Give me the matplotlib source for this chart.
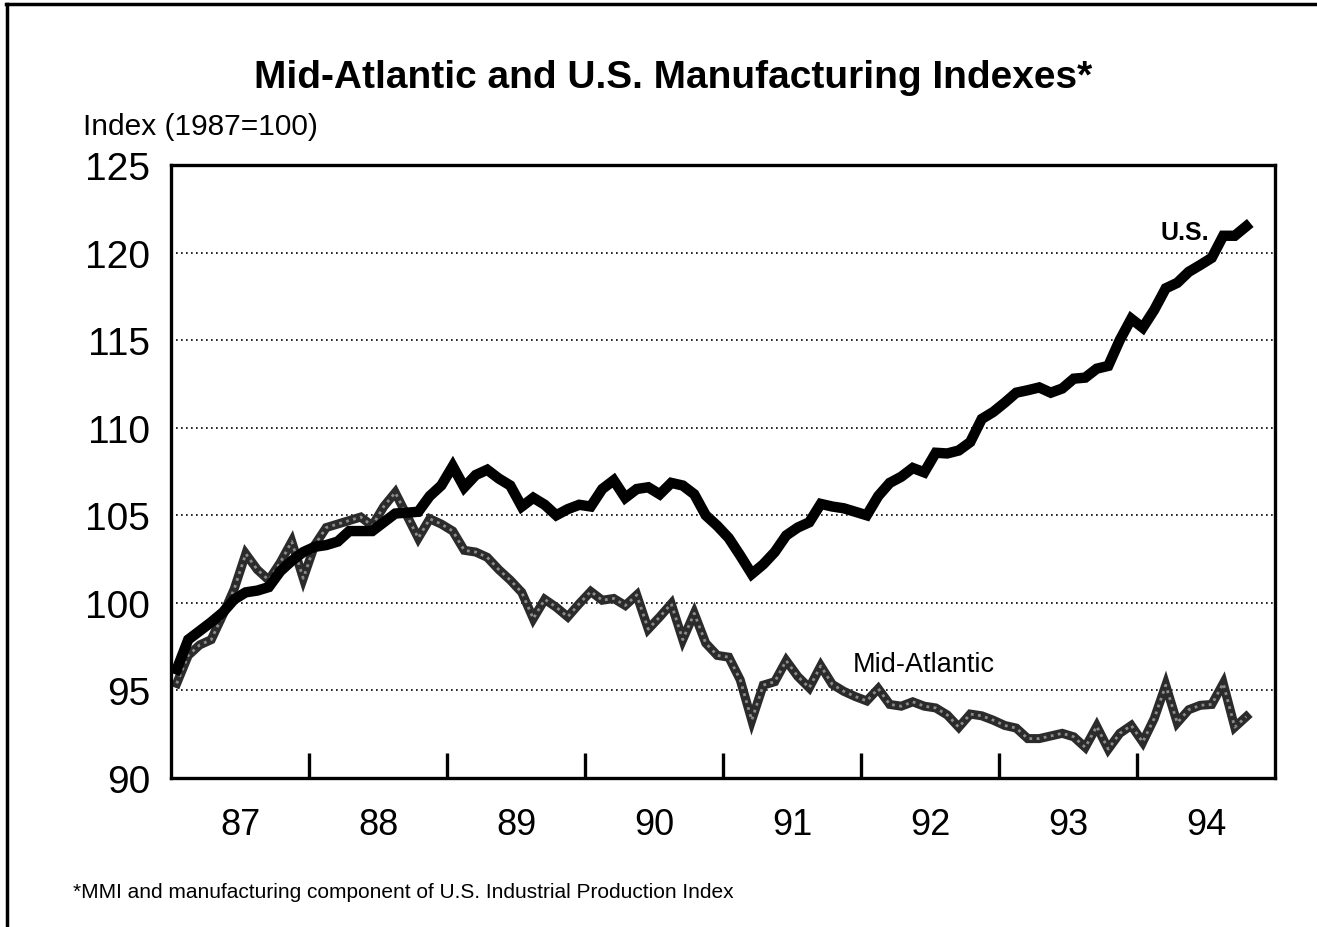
#Mid-Atlantic vs U.S. manufacturing indexes, monthly 1987-1994

import numpy as np
import matplotlib.pyplot as plt

plt.rcParams['font.family'] = ['Liberation Sans', 'DejaVu Sans']

#monthly values, Jan 1987 onwards
us_index = [
    96.2, 97.9, 98.4, 98.9, 99.45, 100.2, 100.6, 100.7, 100.9, 101.8, 102.4, 102.9,
    103.2, 103.3, 103.5, 104.1, 104.1, 104.1, 104.6, 105.1, 105.15, 105.2, 106.1, 106.7,
    107.8, 106.6, 107.3, 107.6, 107.1, 106.7, 105.5, 106.0, 105.6, 105.0, 105.35, 105.6,
    105.5, 106.5, 107.0, 106.0, 106.5, 106.6, 106.2, 106.85, 106.7, 106.2, 105.0, 104.4,
    103.7, 102.7, 101.65, 102.2, 102.9, 103.85, 104.3, 104.6, 105.65, 105.5, 105.4, 105.2,
    105.0, 106.1, 106.85, 107.2, 107.7, 107.45, 108.57, 108.53, 108.7, 109.18, 110.5, 110.9,
    111.43, 112.0, 112.14, 112.3, 112.0, 112.24, 112.8, 112.86, 113.37, 113.53, 115.0, 116.22,
    115.71, 116.73, 117.96, 118.27, 118.9, 119.29, 119.7, 120.96, 120.96, 121.5,
]
mid_atlantic_index = [
    95.4, 97.0, 97.6, 97.9, 99.3, 100.8, 102.8, 101.9, 101.3, 102.3, 103.5, 101.4,
    103.3, 104.3, 104.5, 104.7, 104.9, 104.4, 105.5, 106.3, 105.0, 103.7, 104.8, 104.5,
    104.1, 103.0, 102.9, 102.6, 101.9, 101.3, 100.6, 99.1, 100.2, 99.75, 99.2, 99.95,
    100.65, 100.15, 100.25, 99.85, 100.45, 98.5, 99.2, 99.95, 97.9, 99.4, 97.7, 97.0,
    96.9, 95.6, 93.3, 95.3, 95.5, 96.7, 95.8, 95.15, 96.4, 95.35, 94.95, 94.65,
    94.4, 95.1, 94.2, 94.1, 94.35, 94.1, 94.0, 93.6, 92.9, 93.65, 93.55, 93.3,
    93.0, 92.85, 92.25, 92.25, 92.4, 92.55, 92.35, 91.75, 92.95, 91.65, 92.55, 93.0,
    92.05, 93.4, 95.3, 93.15, 93.9, 94.15, 94.2, 95.4, 92.9, 93.5,
]
year_labels = ['87', '88', '89', '90', '91', '92', '93', '94']
y_ticks = [90, 95, 100, 105, 110, 115, 120, 125]

#each month is plotted at its middle
months = np.arange(len(us_index)) + 0.5

fig = plt.figure(figsize=(13.17, 9.28), dpi=100)
ax = fig.add_axes([171/1317, 1 - 779/928, 1104/1317, 613/928])

#grey speckled look for the Mid-Atlantic line
ax.plot(months, mid_atlantic_index, color='#2b2b2b', lw=6.5, solid_joinstyle='miter')
ax.plot(months, mid_atlantic_index, color='#8c8c8c', lw=2, ls=(0, (1, 1.6)))
ax.plot(months, us_index, color='black', lw=7.5, solid_joinstyle='miter')

ax.set_xlim(0, 96)
ax.set_ylim(90, 125)

for v in y_ticks[1:-1]:
    ax.axhline(v, color='black', lw=1.2, ls=(0, (1, 2)), zorder=0)

#year boundaries get inward ticks, labels sit in the middle of each year
ax.set_xticks(np.arange(12, 96, 12))
ax.set_xticklabels([])
ax.tick_params(axis='x', which='major', direction='in', length=18, width=2.4)
ax.set_xticks(np.arange(6, 96, 12), minor=True)
ax.set_xticklabels(year_labels, minor=True, fontsize=26)
ax.tick_params(axis='x', which='minor', length=0, pad=21)

ax.set_yticks(y_ticks)
ax.set_yticklabels([str(v) for v in y_ticks], fontsize=28)
ax.tick_params(axis='y', length=0, pad=15)

for s in ax.spines.values():
    s.set_linewidth(2.4)

ax.text(90.3, 121.2, 'U.S.', fontsize=18, fontweight='bold', ha='right', va='center')
ax.text(59.3, 96.5, 'Mid-Atlantic', fontsize=19.5, ha='left', va='center')

fig.text(673/1317, 1 - 78/928, 'Mid-Atlantic and U.S. Manufacturing Indexes*',
         fontsize=28, fontweight='bold', ha='center', va='center')
fig.text(83/1317, 1 - 127/928, 'Index (1987=100)', fontsize=21.5, ha='left', va='center')
fig.text(73/1317, 1 - 893/928,
         '*MMI and manufacturing component of U.S. Industrial Production Index',
         fontsize=15, ha='left', va='center')

#outer frame, only top and left edges show
fig.add_artist(plt.Line2D([6/1317, 1], [1 - 5/928, 1 - 5/928], color='black', lw=2.5))
fig.add_artist(plt.Line2D([7/1317, 7/1317], [0, 1 - 5/928], color='black', lw=2.5))

plt.savefig('out.png', dpi=100)
